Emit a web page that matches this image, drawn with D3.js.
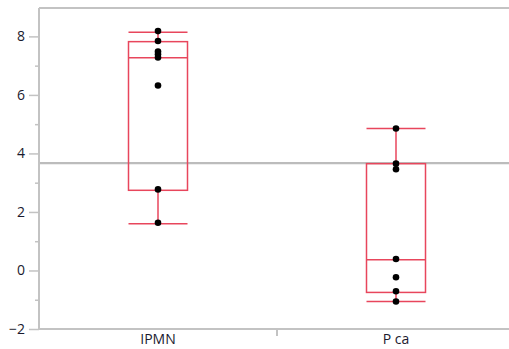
<!DOCTYPE html>
<html><head><meta charset="utf-8">
<script src="https://cdn.jsdelivr.net/npm/d3@7"></script>
<style>body{margin:0;background:#fff}svg{display:block}</style>
</head><body>
<script>
const categories = ["IPMN", "P ca"];
const pointsIPMN = [8.18, 7.84, 7.48, 7.39, 7.28, 6.32, 2.77, 1.63];
const pointsPca = [4.85, 3.65, 3.46, 0.39, -0.23, -0.71, -1.06];
const whiskerLow = [1.60, -1.06];
const q1 = [2.74, -0.75];
const median = [7.27, 0.37];
const q3 = [7.82, 3.65];
const whiskerHigh = [8.14, 4.85];
const refLine = 3.67;
const yTicks = [-2, 0, 2, 4, 6, 8];
const yMinor = [-1, 1, 3, 5, 7];

(function () {
const W = 509, H = 349;
const mLeft = 39, mRight = 509, mTop = 8, mBottom = 329;
const svg = d3.select("body").append("svg").attr("width", W).attr("height", H);
const y = d3.scaleLinear().domain([-2, 8.97]).range([mBottom, mTop]);
const x = d3.scaleBand().domain(categories).range([mLeft, mRight + 6]).paddingInner(0).paddingOuter(0);
const pointsAll = [pointsIPMN, pointsPca];
const grey = "#c3c3c3", red = "#e8465c";

svg.append("line").attr("x1", mLeft).attr("x2", mRight).attr("y1", mTop).attr("y2", mTop)
  .attr("stroke", grey).attr("stroke-width", 2);
svg.append("line").attr("x1", mLeft).attr("x2", mRight).attr("y1", y(refLine)).attr("y2", y(refLine))
  .attr("stroke", "#bcbcbc").attr("stroke-width", 2.2);

const yAxis = svg.append("g").attr("transform", `translate(${mLeft},0)`)
  .call(d3.axisLeft(y).tickValues(yTicks).tickSize(10).tickPadding(4).tickFormat(d3.format("d")));
yAxis.select(".domain").attr("stroke", grey).attr("stroke-width", 2).attr("d", `M0,${mTop}V${mBottom+1}`);
yAxis.selectAll(".tick line").attr("stroke", grey).attr("stroke-width", 1.5);
yAxis.selectAll(".tick text").attr("font-family", "Open Sans, sans-serif").attr("font-size", 14).attr("fill", "#1a1a2e");
svg.append("g").attr("transform", `translate(${mLeft},0)`)
  .call(d3.axisLeft(y).tickValues(yMinor).tickSize(4).tickFormat(""))
  .call(g => { g.select(".domain").remove(); g.selectAll(".tick line").attr("stroke", grey).attr("stroke-width", 1.5); });

const xAxis = svg.append("g").attr("transform", `translate(0,${mBottom})`)
  .call(d3.axisBottom(x).tickSize(0).tickPadding(5));
xAxis.select(".domain").attr("stroke", grey).attr("stroke-width", 2).attr("d", `M${mLeft},0H${mRight}`);
xAxis.selectAll(".tick text").attr("font-family", "Open Sans, sans-serif").attr("font-size", 14).attr("fill", "#1a1a2e");
svg.append("line").attr("x1", x(categories[1])).attr("x2", x(categories[1]))
  .attr("y1", mBottom).attr("y2", mBottom + 7).attr("stroke", grey).attr("stroke-width", 2);

const boxW = 59, capW = 59;
categories.forEach((c, i) => {
  const cx = x(c) + x.bandwidth() / 2;
  const g = svg.append("g").attr("stroke", red).attr("stroke-width", 1.5).attr("fill", "none");
  g.append("line").attr("x1", cx).attr("x2", cx).attr("y1", y(whiskerHigh[i])).attr("y2", y(q3[i]));
  g.append("line").attr("x1", cx).attr("x2", cx).attr("y1", y(q1[i])).attr("y2", y(whiskerLow[i]));
  g.append("line").attr("x1", cx - capW/2).attr("x2", cx + capW/2).attr("y1", y(whiskerHigh[i])).attr("y2", y(whiskerHigh[i]));
  g.append("line").attr("x1", cx - capW/2).attr("x2", cx + capW/2).attr("y1", y(whiskerLow[i])).attr("y2", y(whiskerLow[i]));
  g.append("rect").attr("x", cx - boxW/2).attr("width", boxW).attr("y", y(q3[i])).attr("height", y(q1[i]) - y(q3[i]));
  g.append("line").attr("x1", cx - boxW/2).attr("x2", cx + boxW/2).attr("y1", y(median[i])).attr("y2", y(median[i]));
  svg.append("g").selectAll("circle").data(pointsAll[i]).join("circle")
    .attr("cx", cx).attr("cy", d => y(d)).attr("r", 3.3).attr("fill", "#000");
});
})();
</script>
</body></html>
